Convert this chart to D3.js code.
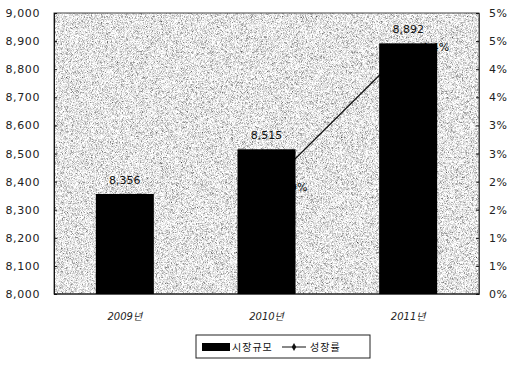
<!DOCTYPE html>
<html lang="ko">
<head>
  <meta charset="UTF-8">
  <title>시장규모 및 성장률</title>
  <script src="https://d3js.org/d3.v7.min.js"></script>
  <style>
    body {
      margin: 0;
      padding: 0;
      background-color: #fff;
    }
    .axis-label {
      font-family: 'DejaVu Sans', sans-serif;
      font-size: 11px;
      fill: #222;
    }
    .data-label {
      font-family: 'DejaVu Sans', sans-serif;
      font-size: 11px;
      fill: #111;
    }
    .cat-label {
      font-family: 'DejaVu Sans', 'Noto Sans CJK KR', sans-serif;
      font-size: 10px;
      font-style: italic;
      fill: #222;
    }
    .legend-text {
      font-family: 'Noto Sans CJK KR', sans-serif;
      font-size: 10px;
      letter-spacing: 1px;
      fill: #111;
    }
  </style>
</head>
<body>
  <div id="chart"></div>

  <script>
    // chart data
    const years = ["2009년", "2010년", "2011년"];
    const marketSize = [8356, 8515, 8892];
    const growthRate = [null, 1.9, 4.4];       // % (2009 has no value)
    const growthLabels = ["", "1.9%", "4.4%"];
    const leftTicks = [8000, 8100, 8200, 8300, 8400, 8500, 8600, 8700, 8800, 8900, 9000];
    const rightTicks = [0, 0.5, 1, 1.5, 2, 2.5, 3, 3.5, 4, 4.5, 5];
    const rightTickLabels = ["0%", "1%", "1%", "2%", "2%", "3%", "3%", "4%", "4%", "5%", "5%"];
    const seriesNames = ["시장규모", "성장률"];

    const W = 510, H = 366;
    const plot = { left: 54, right: 479, top: 13, bottom: 294 };

    const svg = d3.select("#chart")
      .append("svg")
      .attr("width", W)
      .attr("height", H);

    // grainy halftone look for the plot background
    const defs = svg.append("defs");
    const grain = defs.append("filter")
      .attr("id", "grain")
      .attr("x", 0).attr("y", 0)
      .attr("width", "100%").attr("height", "100%");
    grain.append("feTurbulence")
      .attr("type", "fractalNoise")
      .attr("baseFrequency", 1.8)
      .attr("numOctaves", 1)
      .attr("seed", 4)
      .attr("stitchTiles", "stitch");
    grain.append("feColorMatrix")
      .attr("type", "matrix")
      .attr("values", "2.2 0 0 0 -0.32  2.2 0 0 0 -0.32  2.2 0 0 0 -0.32  0 0 0 0 1");

    const x = d3.scaleBand()
      .domain(years)
      .range([plot.left, plot.right]);

    const yLeft = d3.scaleLinear()
      .domain([8000, 9000])
      .range([plot.bottom, plot.top]);

    const yRight = d3.scaleLinear()
      .domain([0, 5])
      .range([plot.bottom, plot.top]);

    const barWidth = 58;
    const cx = d => x(d) + x.bandwidth() / 2;

    // plot area
    svg.append("rect")
      .attr("x", plot.left)
      .attr("y", plot.top)
      .attr("width", plot.right - plot.left)
      .attr("height", plot.bottom - plot.top)
      .attr("filter", "url(#grain)");

    svg.append("rect")
      .attr("x", plot.left)
      .attr("y", plot.top)
      .attr("width", plot.right - plot.left)
      .attr("height", plot.bottom - plot.top)
      .attr("fill", "none")
      .attr("stroke", "#444")
      .attr("stroke-width", 1);

    // left axis
    svg.append("g")
      .attr("transform", `translate(${plot.left},0)`)
      .call(d3.axisLeft(yLeft).tickValues(leftTicks).tickSize(-3).tickPadding(14)
        .tickFormat(d3.format(",")))
      .call(g => g.select(".domain").attr("stroke", "#111"))
      .call(g => g.selectAll("line").attr("stroke", "#111"))
      .call(g => g.selectAll("text").attr("class", "axis-label").attr("font-family", null)
        .attr("font-size", null).attr("fill", null).style("letter-spacing", "0.6px"));

    // right axis
    svg.append("g")
      .attr("transform", `translate(${plot.right},0)`)
      .call(d3.axisRight(yRight).tickValues(rightTicks).tickSize(-3).tickPadding(10)
        .tickFormat((d, i) => rightTickLabels[i]))
      .call(g => g.select(".domain").attr("stroke", "#444"))
      .call(g => g.selectAll("line").attr("stroke", "#111"))
      .call(g => g.selectAll("text").attr("class", "axis-label").attr("font-family", null)
        .attr("font-size", null).attr("fill", null).style("letter-spacing", "0.4px"));

    // bottom axis line
    svg.append("line")
      .attr("x1", plot.left).attr("x2", plot.right)
      .attr("y1", plot.bottom).attr("y2", plot.bottom)
      .attr("stroke", "#111");

    // growth rate line (drawn under the bars, as in the print)
    const growthPts = years.map((d, i) => ({ year: d, v: growthRate[i], label: growthLabels[i] }))
      .filter(d => d.v !== null);

    svg.append("path")
      .datum(growthPts)
      .attr("fill", "none")
      .attr("stroke", "#111")
      .attr("stroke-width", 1.2)
      .attr("d", d3.line().x(d => cx(d.year)).y(d => yRight(d.v)));

    svg.selectAll(".growth-label")
      .data(growthPts)
      .enter()
      .append("text")
      .attr("class", "data-label growth-label")
      .attr("x", d => cx(d.year) + 13)
      .attr("y", d => yRight(d.v))
      .attr("dy", "0.35em")
      .text(d => d.label);

    // market size bars
    svg.selectAll(".bar")
      .data(years)
      .enter()
      .append("rect")
      .attr("class", "bar")
      .attr("x", d => cx(d) - barWidth / 2)
      .attr("y", (d, i) => yLeft(marketSize[i]))
      .attr("width", barWidth)
      .attr("height", (d, i) => plot.bottom - yLeft(marketSize[i]))
      .attr("fill", "#000");

    svg.selectAll(".bar-label")
      .data(years)
      .enter()
      .append("text")
      .attr("class", "data-label bar-label")
      .attr("x", d => cx(d))
      .attr("y", (d, i) => yLeft(marketSize[i]) - 10)
      .attr("text-anchor", "middle")
      .text((d, i) => d3.format(",")(marketSize[i]));

    // category labels
    svg.selectAll(".cat-label")
      .data(years)
      .enter()
      .append("text")
      .attr("class", "cat-label")
      .attr("x", d => cx(d))
      .attr("y", 320)
      .attr("text-anchor", "middle")
      .text(d => d);

    // legend
    const legend = svg.append("g").attr("transform", "translate(196,335)");
    legend.append("rect")
      .attr("width", 174).attr("height", 23)
      .attr("fill", "#fff").attr("stroke", "#222");
    legend.append("rect")
      .attr("x", 6).attr("y", 8).attr("width", 28).attr("height", 8)
      .attr("fill", "#000");
    legend.append("text")
      .attr("class", "legend-text")
      .attr("x", 36).attr("y", 12).attr("dy", "0.35em")
      .text(seriesNames[0]);
    legend.append("line")
      .attr("x1", 86).attr("x2", 110).attr("y1", 12).attr("y2", 12)
      .attr("stroke", "#111").attr("stroke-width", 1);
    legend.append("path")
      .attr("d", d3.symbol(d3.symbolDiamond, 18)())
      .attr("transform", "translate(98,12)")
      .attr("fill", "#111");
    legend.append("text")
      .attr("class", "legend-text")
      .attr("x", 114).attr("y", 12).attr("dy", "0.35em")
      .text(seriesNames[1]);
  </script>
</body>
</html>
